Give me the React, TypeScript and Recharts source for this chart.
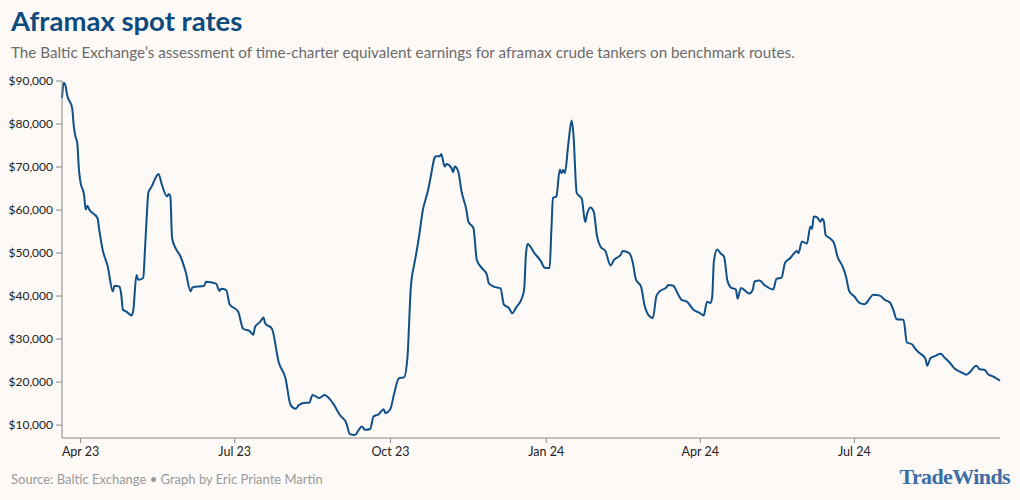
import { LineChart, Line, XAxis, YAxis } from "recharts";

// Baltic Exchange TCE, aframax benchmark routes
const DATES = [
  "2023-03-21", "2023-03-22", "2023-03-23", "2023-03-24", "2023-03-27", "2023-03-28", "2023-03-29", "2023-03-30",
  "2023-03-31", "2023-04-01", "2023-04-03", "2023-04-04", "2023-04-05", "2023-04-06", "2023-04-11", "2023-04-12",
  "2023-04-14", "2023-04-17", "2023-04-20", "2023-04-21", "2023-04-24", "2023-04-25", "2023-04-26", "2023-04-28",
  "2023-05-01", "2023-05-02", "2023-05-04", "2023-05-05", "2023-05-08", "2023-05-09", "2023-05-10", "2023-05-11",
  "2023-05-13", "2023-05-17", "2023-05-19", "2023-05-22", "2023-05-23", "2023-05-24", "2023-05-25", "2023-05-27",
  "2023-05-30", "2023-06-02", "2023-06-05", "2023-06-06", "2023-06-13", "2023-06-14", "2023-06-20", "2023-06-22",
  "2023-06-23", "2023-06-26", "2023-06-28", "2023-07-03", "2023-07-06", "2023-07-10", "2023-07-12", "2023-07-13",
  "2023-07-16", "2023-07-18", "2023-07-19", "2023-07-23", "2023-07-27", "2023-07-31", "2023-08-03", "2023-08-06",
  "2023-08-08", "2023-08-12", "2023-08-14", "2023-08-16", "2023-08-20", "2023-08-23", "2023-08-28", "2023-09-01",
  "2023-09-05", "2023-09-07", "2023-09-10", "2023-09-12", "2023-09-14", "2023-09-16", "2023-09-19", "2023-09-21",
  "2023-09-24", "2023-09-27", "2023-09-28", "2023-10-01", "2023-10-03", "2023-10-06", "2023-10-09", "2023-10-11",
  "2023-10-13", "2023-10-15", "2023-10-16", "2023-10-18", "2023-10-20", "2023-10-23", "2023-10-25", "2023-10-27",
  "2023-10-28", "2023-10-30", "2023-10-31", "2023-11-02", "2023-11-03", "2023-11-06", "2023-11-07", "2023-11-08",
  "2023-11-10", "2023-11-12", "2023-11-15", "2023-11-16", "2023-11-19", "2023-11-21", "2023-11-24", "2023-11-27",
  "2023-11-28", "2023-12-01", "2023-12-05", "2023-12-07", "2023-12-10", "2023-12-12", "2023-12-14", "2023-12-18",
  "2023-12-19", "2023-12-20", "2023-12-21", "2023-12-25", "2023-12-29", "2023-12-31", "2024-01-03", "2024-01-04",
  "2024-01-05", "2024-01-07", "2024-01-09", "2024-01-10", "2024-01-11", "2024-01-12", "2024-01-14", "2024-01-16",
  "2024-01-17", "2024-01-19", "2024-01-22", "2024-01-24", "2024-01-25", "2024-01-27", "2024-01-29", "2024-01-31",
  "2024-02-02", "2024-02-05", "2024-02-08", "2024-02-10", "2024-02-14", "2024-02-15", "2024-02-19", "2024-02-21",
  "2024-02-23", "2024-02-26", "2024-02-28", "2024-03-02", "2024-03-04", "2024-03-06", "2024-03-08", "2024-03-12",
  "2024-03-13", "2024-03-16", "2024-03-19", "2024-03-21", "2024-03-24", "2024-03-28", "2024-04-01", "2024-04-03",
  "2024-04-05", "2024-04-07", "2024-04-08", "2024-04-09", "2024-04-11", "2024-04-13", "2024-04-15", "2024-04-17",
  "2024-04-19", "2024-04-22", "2024-04-23", "2024-04-25", "2024-04-30", "2024-05-02", "2024-05-03", "2024-05-06",
  "2024-05-09", "2024-05-11", "2024-05-14", "2024-05-16", "2024-05-19", "2024-05-21", "2024-05-24", "2024-05-27",
  "2024-05-28", "2024-05-29", "2024-05-31", "2024-06-03", "2024-06-05", "2024-06-06", "2024-06-07", "2024-06-09",
  "2024-06-11", "2024-06-12", "2024-06-13", "2024-06-14", "2024-06-17", "2024-06-19", "2024-06-21", "2024-06-24",
  "2024-06-26", "2024-06-28", "2024-07-01", "2024-07-04", "2024-07-07", "2024-07-10", "2024-07-12", "2024-07-16",
  "2024-07-19", "2024-07-22", "2024-07-24", "2024-07-26", "2024-07-30", "2024-08-01", "2024-08-04", "2024-08-06",
  "2024-08-08", "2024-08-12", "2024-08-13", "2024-08-15", "2024-08-18", "2024-08-21", "2024-08-23", "2024-08-27",
  "2024-08-29", "2024-09-01", "2024-09-04", "2024-09-05", "2024-09-07", "2024-09-11", "2024-09-13", "2024-09-16",
  "2024-09-18", "2024-09-21", "2024-09-25",
];

const RATES = [
  86000, 89600, 89000, 86800, 83700, 79400, 77000, 75600,
  69400, 66300, 63600, 60100, 61000, 60200, 58100, 55400,
  50800, 46900, 41100, 42400, 42200, 40300, 36800, 36400,
  35500, 36400, 44900, 43800, 44200, 50800, 58100, 64000,
  65500, 68400, 65900, 63200, 63700, 63200, 53500, 51200,
  49200, 45700, 41100, 42000, 42400, 43300, 42900, 41200,
  41700, 41400, 38100, 36400, 32400, 31800, 31000, 32800,
  34000, 35000, 33700, 32400, 24600, 20900, 14700, 13800,
  14700, 15200, 15200, 17000, 16300, 17000, 15100, 12400,
  10400, 7900, 7700, 8700, 9700, 8900, 9100, 12000,
  12500, 13700, 12800, 13800, 17000, 20900, 21100, 25600,
  41900, 47300, 49400, 54200, 59700, 64300, 68200, 72100,
  72500, 72500, 73000, 70100, 70700, 69800, 68800, 70100,
  69000, 64300, 59700, 57300, 55800, 48400, 46500, 44900,
  43000, 42200, 41800, 38000, 37200, 36000, 37200, 39900,
  41800, 49600, 52100, 50000, 48000, 46600, 46500, 55000,
  62800, 63200, 69400, 68600, 69300, 68600, 75200, 80800,
  77900, 64000, 62600, 57200, 58900, 60600, 59700, 53900,
  51500, 50400, 47100, 48400, 49600, 50500, 50000, 48000,
  43800, 42200, 38000, 35300, 34900, 39900, 41100, 42000,
  42600, 42400, 40300, 39100, 38700, 36800, 36000, 35500,
  38700, 38400, 39700, 48000, 50800, 49900, 49200, 43600,
  42000, 41500, 39400, 41900, 40600, 41500, 43400, 43600,
  42500, 42000, 41500, 44000, 44300, 47700, 48800, 50200,
  50500, 50000, 52700, 52200, 56200, 55600, 58500, 58300,
  57300, 58000, 57300, 54200, 53300, 52300, 49200, 46900,
  44600, 41100, 39900, 38400, 38100, 39400, 40300, 40100,
  39100, 38500, 36800, 34600, 34500, 29200, 28800, 27700,
  26900, 25400, 23800, 25600, 26100, 26600, 25800, 24200,
  23200, 22500, 21900, 21700, 22200, 23800, 23000, 22800,
  21800, 21300, 20300,
];

const Y_TICKS = [10000, 20000, 30000, 40000, 50000, 60000, 70000, 80000, 90000];
const X_TICK_DATES = ["2023-04-01", "2023-07-01", "2023-10-01", "2024-01-01", "2024-04-01", "2024-07-01"];
const MONTHS = ["Jan", "Feb", "Mar", "Apr", "May", "Jun", "Jul", "Aug", "Sep", "Oct", "Nov", "Dec"];

const FONT = "Lato, 'Noto Sans', sans-serif";
const BG = "#fdf9f6";
const LINE = "#0f5088";

const data = DATES.map((d, i) => ({ t: Date.parse(d), rate: RATES[i] }));
const xTicks = X_TICK_DATES.map((d) => Date.parse(d));

function fmtMonth(t: number) {
  const d = new Date(t);
  return `${MONTHS[d.getUTCMonth()]} ${String(d.getUTCFullYear()).slice(2)}`;
}

export default function App() {
  return (
    <div style={{ position: "absolute", left: 0, top: 0, width: 1020, height: 500, background: BG, fontFamily: FONT, overflow: "hidden" }}>
      <div style={{ position: "absolute", left: 11, top: 4, fontSize: 27.5, fontWeight: 700, color: "#0d4a7e" }}>
        Aframax spot rates
      </div>
      <div style={{ position: "absolute", left: 11, top: 43, fontSize: 15.2, color: "#6b6b6b" }}>
        The Baltic Exchange’s assessment of time-charter equivalent earnings for aframax crude tankers on benchmark routes.
      </div>
      <div style={{ position: "absolute", top: 0, left: 0 }}>
        <LineChart width={1020} height={500} data={data} margin={{ top: 81, right: 20, bottom: 32, left: 0 }}>
          <XAxis
            dataKey="t"
            type="number"
            scale="time"
            domain={["dataMin", "dataMax"]}
            ticks={xTicks}
            tickFormatter={fmtMonth}
            height={30}
            tickSize={5}
            axisLine={{ stroke: "#8a8a8a" }}
            tickLine={{ stroke: "#8a8a8a" }}
            tick={{ fill: "#222", fontSize: 12.5, fontFamily: FONT }}
            tickMargin={4}
          />
          <YAxis
            type="number"
            domain={[7000, 90000]}
            ticks={Y_TICKS}
            tickFormatter={(v: number) => `$${v.toLocaleString("en-US")}`}
            width={62}
            tickSize={6}
            axisLine={{ stroke: "#8a8a8a" }}
            tickLine={{ stroke: "#8a8a8a" }}
            tick={{ fill: "#222", fontSize: 12, fontFamily: FONT }}
            tickMargin={3}
          />
          <Line
            type="monotone"
            dataKey="rate"
            stroke={LINE}
            strokeWidth={2}
            dot={false}
            isAnimationActive={false}
          />
        </LineChart>
      </div>
      <div style={{ position: "absolute", left: 11, top: 471, fontSize: 13, color: "#9a9a9a" }}>
        Source: Baltic Exchange • Graph by Eric Priante Martin
      </div>
      <div style={{ position: "absolute", right: 10, top: 464, fontSize: 22, fontWeight: 700, color: "#3b6da6", fontFamily: "'Liberation Serif', 'DejaVu Serif', serif", letterSpacing: -0.6 }}>
        TradeWinds
      </div>
    </div>
  );
}
